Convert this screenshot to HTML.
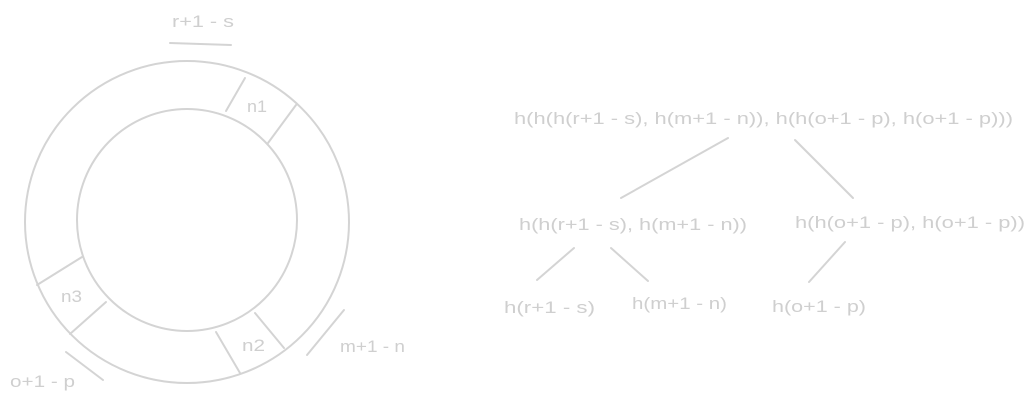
<!DOCTYPE html>
<html><head><style>
html,body{margin:0;padding:0;background:#fff;}
svg{display:block}
text{font-family:"Liberation Sans",sans-serif;fill:#cfcfcf;font-size:17px;}
</style></head><body>
<svg width="1035" height="403" viewBox="0 0 1035 403" xmlns="http://www.w3.org/2000/svg">
<g stroke="#d4d4d4" fill="none" stroke-width="2" stroke-linecap="round">
<ellipse cx="187" cy="222" rx="162" ry="161"/>
<ellipse cx="187" cy="220" rx="110" ry="111"/>
<line x1="170" y1="43" x2="231" y2="45"/>
<line x1="245" y1="78" x2="226" y2="111"/>
<line x1="296" y1="105" x2="268" y2="143"/>
<line x1="82" y1="257" x2="37" y2="285"/>
<line x1="106" y1="302" x2="70" y2="334"/>
<line x1="216" y1="332" x2="240" y2="373"/>
<line x1="255" y1="313" x2="284" y2="348"/>
<line x1="344" y1="310" x2="307" y2="355"/>
<line x1="66" y1="352" x2="103" y2="380"/>
<line x1="728" y1="138" x2="621" y2="198"/>
<line x1="795" y1="140" x2="853" y2="198"/>
<line x1="574" y1="248" x2="537" y2="280"/>
<line x1="611" y1="248" x2="648" y2="281"/>
<line x1="845" y1="242" x2="809" y2="282"/>
</g>
<g>
<text x="172" y="27" textLength="62" lengthAdjust="spacingAndGlyphs">r+1 - s</text>
<text x="247" y="112" textLength="20" lengthAdjust="spacingAndGlyphs">n1</text>
<text x="61" y="302" textLength="21" lengthAdjust="spacingAndGlyphs">n3</text>
<text x="242" y="351" textLength="23" lengthAdjust="spacingAndGlyphs">n2</text>
<text x="340" y="352" textLength="65" lengthAdjust="spacingAndGlyphs">m+1 - n</text>
<text x="10" y="387" textLength="65" lengthAdjust="spacingAndGlyphs">o+1 - p</text>
<text x="514" y="124" textLength="499" lengthAdjust="spacingAndGlyphs">h(h(h(r+1 - s), h(m+1 - n)), h(h(o+1 - p), h(o+1 - p)))</text>
<text x="519" y="230" textLength="228" lengthAdjust="spacingAndGlyphs">h(h(r+1 - s), h(m+1 - n))</text>
<text x="795" y="228" textLength="230" lengthAdjust="spacingAndGlyphs">h(h(o+1 - p), h(o+1 - p))</text>
<text x="504" y="313" textLength="91" lengthAdjust="spacingAndGlyphs">h(r+1 - s)</text>
<text x="632" y="309" textLength="95" lengthAdjust="spacingAndGlyphs">h(m+1 - n)</text>
<text x="772" y="312" textLength="94" lengthAdjust="spacingAndGlyphs">h(o+1 - p)</text>
</g>
</svg>
</body></html>
